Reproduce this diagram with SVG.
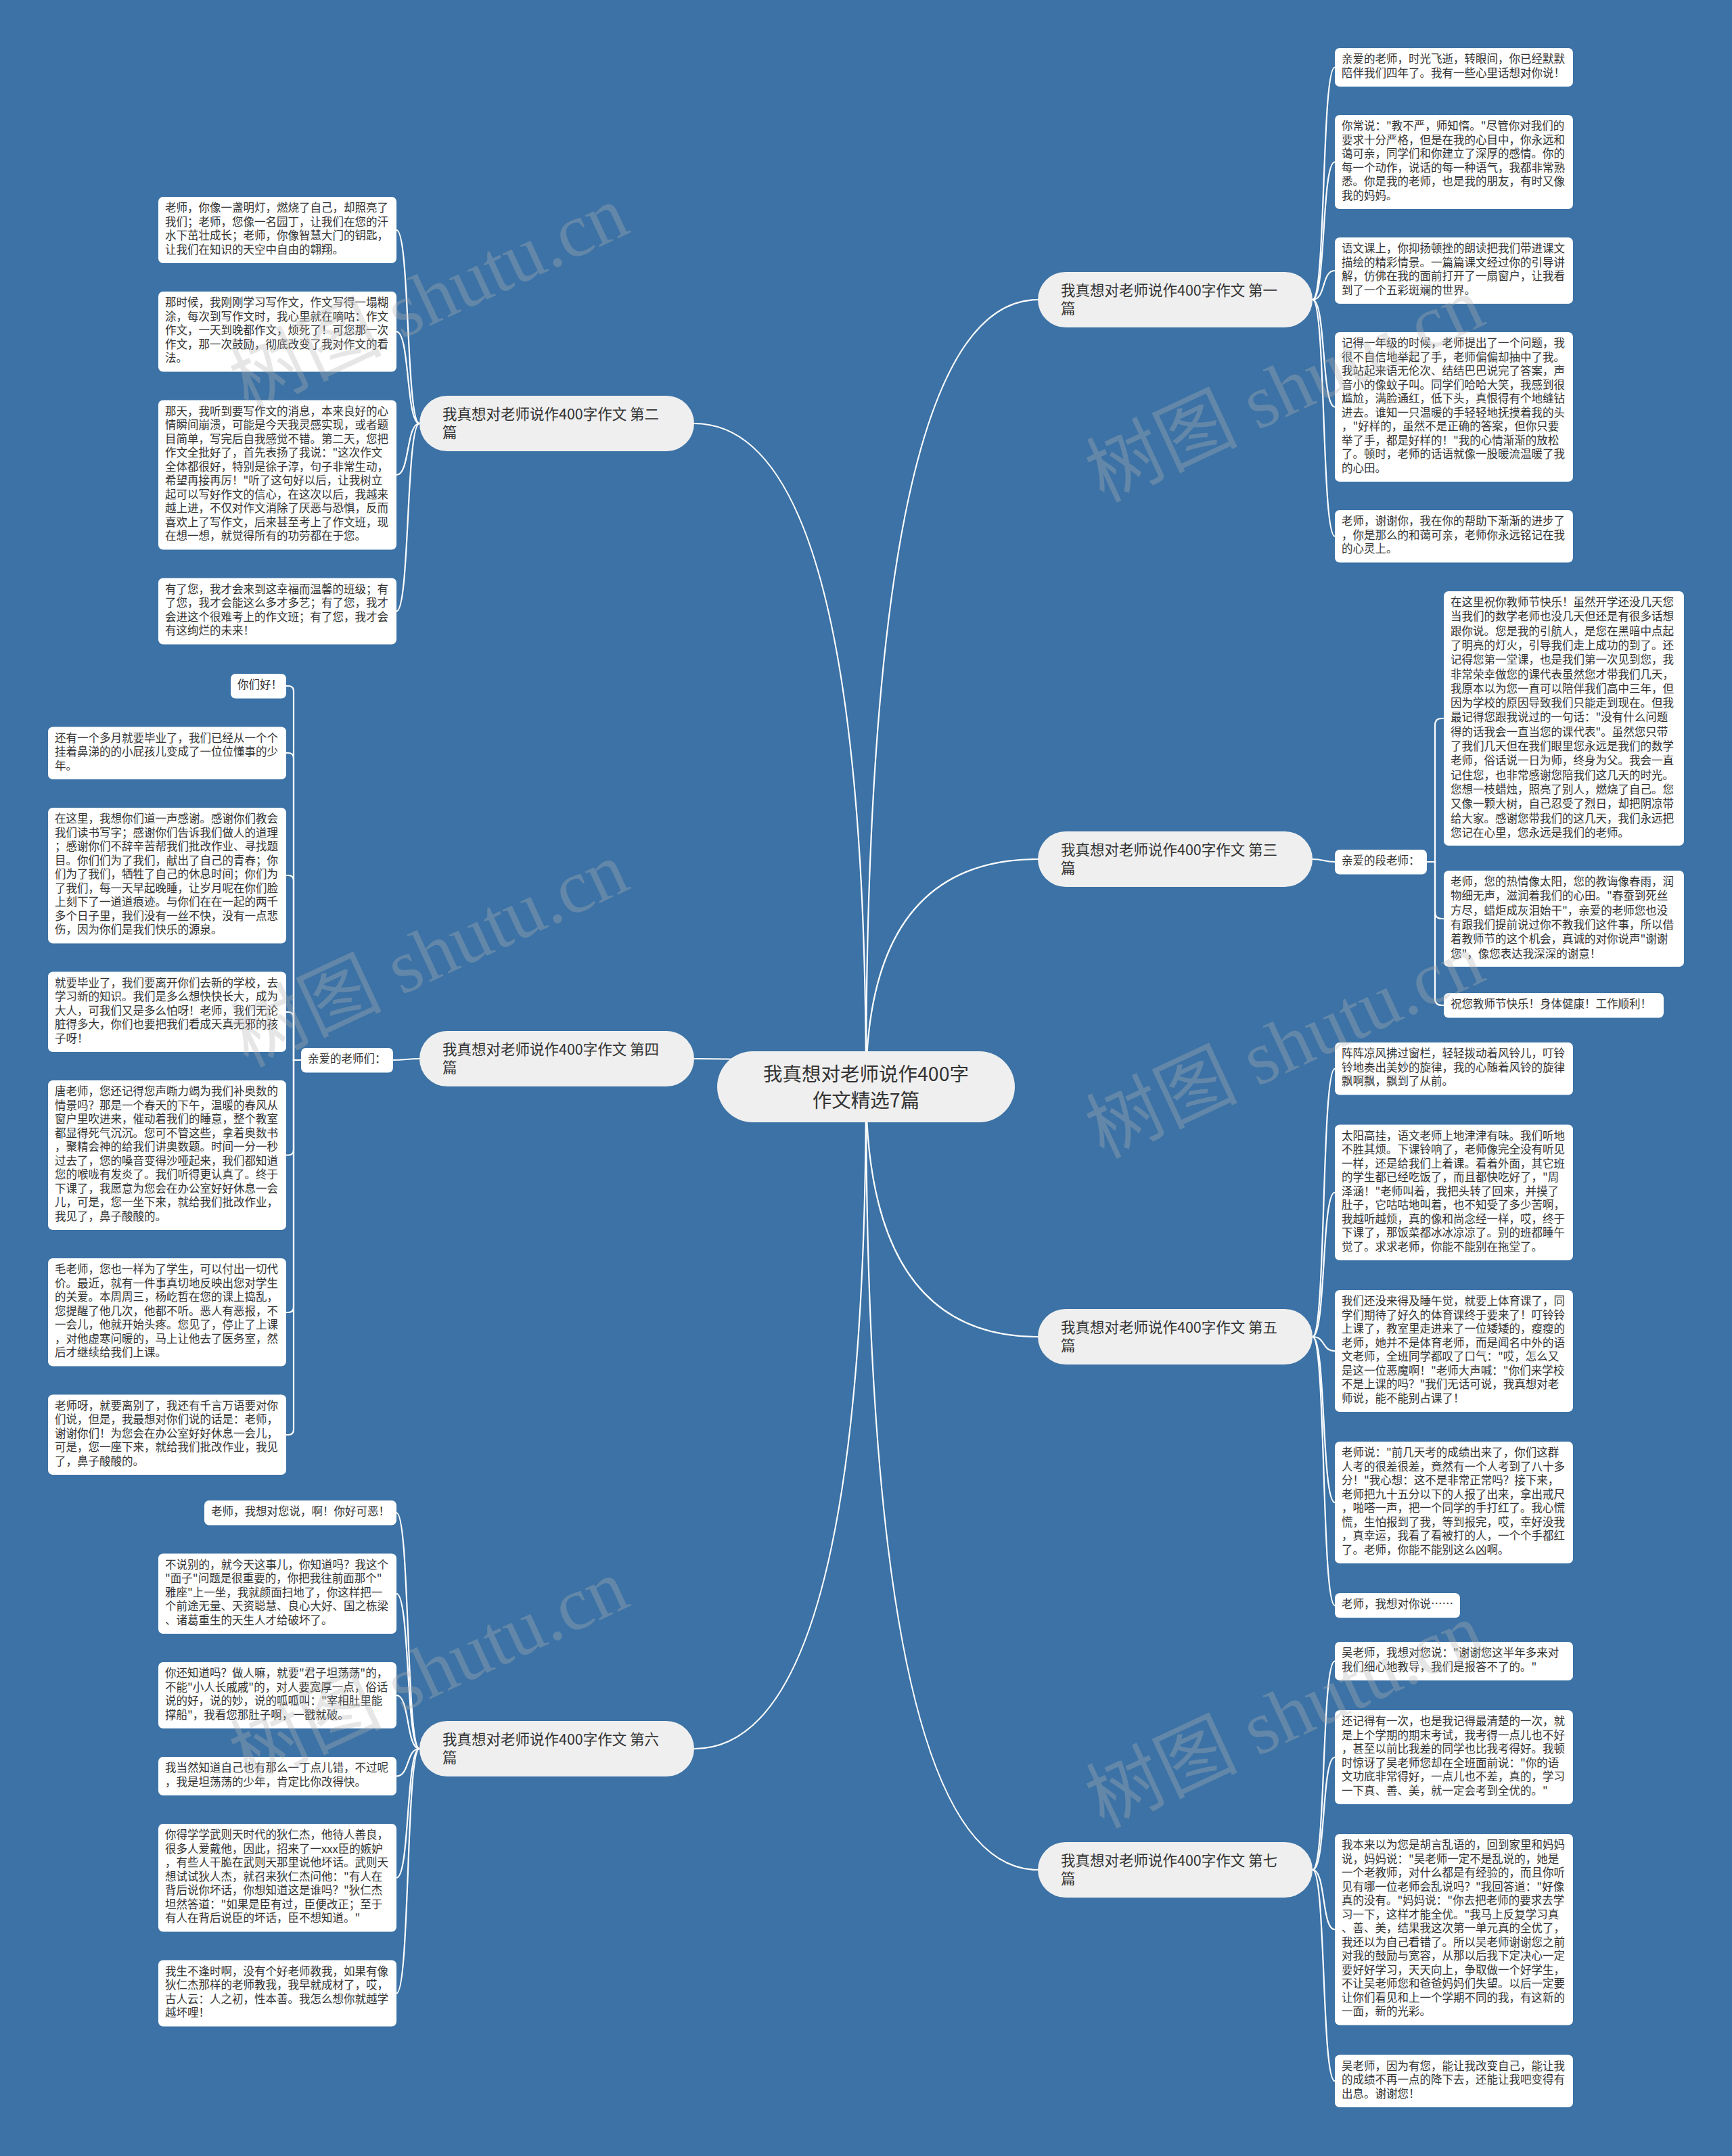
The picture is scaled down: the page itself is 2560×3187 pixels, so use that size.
<svg xmlns="http://www.w3.org/2000/svg" width="2560" height="3187" viewBox="0 0 2560 3187">
<style>
.bg{fill:#3c72a5}
.leaf{fill:#ffffff}
.lt{font-family:"Noto Sans CJK SC","Noto Sans",sans-serif;font-size:16.5px;fill:#333333}
.br{fill:#efefef}
.bt{font-family:"Noto Sans CJK SC","Noto Sans",sans-serif;font-size:21.5px;fill:#333333}
.ct{font-family:"Noto Sans CJK SC","Noto Sans",sans-serif;font-size:28.5px;fill:#333333;text-anchor:middle}
.cn{fill:none;stroke:#ffffff;stroke-width:2.2}
.wm{font-family:"Liberation Serif","Noto Sans CJK SC",serif;font-size:112px;fill:#b4b4b4;fill-opacity:0.33;text-anchor:middle}
</style>
<rect class="bg" x="0" y="0" width="2560" height="3187"/>

<g id="connectors">
<path class="cn" d="M1280,1606 Q1280,443 1534,443"/>
<path class="cn" d="M1280,1606 Q1280,626 1026,626"/>
<path class="cn" d="M1280,1606 Q1280,1270 1534,1270"/>
<path class="cn" d="M1280,1606 Q1280,1565 1026,1565"/>
<path class="cn" d="M1280,1606 Q1280,1976 1534,1976"/>
<path class="cn" d="M1280,1606 Q1280,2585 1026,2585"/>
<path class="cn" d="M1280,1606 Q1280,2764 1534,2764"/>

<path class="cn" d="M1940,443 C1960,443 1953,99.5 1973,99.5"/>
<path class="cn" d="M1940,443 C1960,443 1953,239.5 1973,239.5"/>
<path class="cn" d="M1940,443 C1960,443 1953,400 1973,400"/>
<path class="cn" d="M1940,443 C1960,443 1953,601.5 1973,601.5"/>
<path class="cn" d="M1940,443 C1960,443 1953,792.75 1973,792.75"/>

<path class="cn" d="M620,626 C600,626 606,340 586,340"/>
<path class="cn" d="M620,626 C600,626 606,490.25 586,490.25"/>
<path class="cn" d="M620,626 C600,626 606,702 586,702"/>
<path class="cn" d="M620,626 C600,626 606,903.5 586,903.5"/>

<path class="cn" d="M1940,1270 C1957,1270 1956,1274 1973,1274"/>
<path class="cn" d="M2109,1274 H2121 V1072 Q2121,1062 2131,1062 H2134"/>
<path class="cn" d="M2109,1274 H2121 V1348 Q2121,1358 2131,1358 H2134"/>
<path class="cn" d="M2109,1274 H2121 V1476 Q2121,1486 2131,1486 H2134"/>

<path class="cn" d="M620,1565 C601,1565 600,1567 581,1567"/>
<path class="cn" d="M445,1567 H434 V1022 Q434,1014 426,1014 H423"/>
<path class="cn" d="M445,1567 H434 V1121 Q434,1113 426,1113 H423"/>
<path class="cn" d="M445,1567 H434 V1302 Q434,1294 426,1294 H423"/>
<path class="cn" d="M445,1567 H434 V1504 Q434,1496 426,1496 H423"/>
<path class="cn" d="M445,1567 H434 V1699.5 Q434,1707.5 426,1707.5 H423"/>
<path class="cn" d="M445,1567 H434 V1932 Q434,1940 426,1940 H423"/>
<path class="cn" d="M445,1567 H434 V2113 Q434,2121 426,2121 H423"/>

<path class="cn" d="M1940,1976 C1960,1976 1953,1579.75 1973,1579.75"/>
<path class="cn" d="M1940,1976 C1960,1976 1953,1762.75 1973,1762.75"/>
<path class="cn" d="M1940,1976 C1960,1976 1953,1997 1973,1997"/>
<path class="cn" d="M1940,1976 C1960,1976 1953,2221 1973,2221"/>
<path class="cn" d="M1940,1976 C1960,1976 1953,2373.25 1973,2373.25"/>

<path class="cn" d="M620,2585 C600,2585 606,2236.25 586,2236.25"/>
<path class="cn" d="M620,2585 C600,2585 606,2355.75 586,2355.75"/>
<path class="cn" d="M620,2585 C600,2585 606,2506 586,2506"/>
<path class="cn" d="M620,2585 C600,2585 606,2625.5 586,2625.5"/>
<path class="cn" d="M620,2585 C600,2585 606,2775.75 586,2775.75"/>
<path class="cn" d="M620,2585 C600,2585 606,2946.5 586,2946.5"/>

<path class="cn" d="M1940,2764 C1960,2764 1953,2455.5 1973,2455.5"/>
<path class="cn" d="M1940,2764 C1960,2764 1953,2597.5 1973,2597.5"/>
<path class="cn" d="M1940,2764 C1960,2764 1953,2852.25 1973,2852.25"/>
<path class="cn" d="M1940,2764 C1960,2764 1953,3076.25 1973,3076.25"/>
</g>

<g id="center">
<rect class="br" x="1060" y="1554" width="440" height="105" rx="52.5"/>
<text class="ct" x="1280" y="1598">我真想对老师说作400字</text>
<text class="ct" x="1280" y="1637">作文精选7篇</text>
</g>

<g id="branch1">
<rect class="br" x="1534" y="402" width="406" height="82" rx="41"/>
<text class="bt" x="1568" y="437">我真想对老师说作400字作文 第一<tspan x="1568" dy="27">篇</tspan></text>
</g>
<g id="branch2">
<rect class="br" x="620" y="585" width="406" height="82" rx="41"/>
<text class="bt" x="654" y="620">我真想对老师说作400字作文 第二<tspan x="654" dy="27">篇</tspan></text>
</g>
<g id="branch3">
<rect class="br" x="1534" y="1229" width="406" height="82" rx="41"/>
<text class="bt" x="1568" y="1264">我真想对老师说作400字作文 第三<tspan x="1568" dy="27">篇</tspan></text>
</g>
<g id="branch4">
<rect class="br" x="620" y="1524" width="406" height="82" rx="41"/>
<text class="bt" x="654" y="1559">我真想对老师说作400字作文 第四<tspan x="654" dy="27">篇</tspan></text>
</g>
<g id="branch5">
<rect class="br" x="1534" y="1935" width="406" height="82" rx="41"/>
<text class="bt" x="1568" y="1970">我真想对老师说作400字作文 第五<tspan x="1568" dy="27">篇</tspan></text>
</g>
<g id="branch6">
<rect class="br" x="620" y="2544" width="406" height="82" rx="41"/>
<text class="bt" x="654" y="2579">我真想对老师说作400字作文 第六<tspan x="654" dy="27">篇</tspan></text>
</g>
<g id="branch7">
<rect class="br" x="1534" y="2723" width="406" height="82" rx="41"/>
<text class="bt" x="1568" y="2758">我真想对老师说作400字作文 第七<tspan x="1568" dy="27">篇</tspan></text>
</g>

<g id="s1-1"><rect class="leaf" x="1973" y="71" width="352" height="57" rx="7"/>
<text class="lt" x="1983" y="93"><tspan x="1983">亲爱的老师，时光飞逝，转眼间，你已经默默</tspan><tspan x="1983" dy="20.5">陪伴我们四年了。我有一些心里话想对你说！</tspan></text></g>
<g id="s1-2"><rect class="leaf" x="1973" y="170" width="352" height="139" rx="7"/>
<text class="lt" x="1983" y="192"><tspan x="1983">你常说："教不严，师知惰。"尽管你对我们的</tspan><tspan x="1983" dy="20.5">要求十分严格，但是在我的心目中，你永远和</tspan><tspan x="1983" dy="20.5">蔼可亲，同学们和你建立了深厚的感情。你的</tspan><tspan x="1983" dy="20.5">每一个动作，说话的每一种语气，我都非常熟</tspan><tspan x="1983" dy="20.5">悉。你是我的老师，也是我的朋友，有时又像</tspan><tspan x="1983" dy="20.5">我的妈妈。</tspan></text></g>
<g id="s1-3"><rect class="leaf" x="1973" y="351" width="352" height="98" rx="7"/>
<text class="lt" x="1983" y="373"><tspan x="1983">语文课上，你抑扬顿挫的朗读把我们带进课文</tspan><tspan x="1983" dy="20.5">描绘的精彩情景。一篇篇课文经过你的引导讲</tspan><tspan x="1983" dy="20.5">解，仿佛在我的面前打开了一扇窗户，让我看</tspan><tspan x="1983" dy="20.5">到了一个五彩斑斓的世界。</tspan></text></g>
<g id="s1-4"><rect class="leaf" x="1973" y="491" width="352" height="221" rx="7"/>
<text class="lt" x="1983" y="513"><tspan x="1983">记得一年级的时候，老师提出了一个问题，我</tspan><tspan x="1983" dy="20.5">很不自信地举起了手，老师偏偏却抽中了我。</tspan><tspan x="1983" dy="20.5">我站起来语无伦次、结结巴巴说完了答案，声</tspan><tspan x="1983" dy="20.5">音小的像蚊子叫。同学们哈哈大笑，我感到很</tspan><tspan x="1983" dy="20.5">尴尬，满脸通红，低下头，真恨得有个地缝钻</tspan><tspan x="1983" dy="20.5">进去。谁知一只温暖的手轻轻地抚摸着我的头</tspan><tspan x="1983" dy="20.5">，"好样的，虽然不是正确的答案，但你只要</tspan><tspan x="1983" dy="20.5">举了手，都是好样的！"我的心情渐渐的放松</tspan><tspan x="1983" dy="20.5">了。顿时，老师的话语就像一股暖流温暖了我</tspan><tspan x="1983" dy="20.5">的心田。</tspan></text></g>
<g id="s1-5"><rect class="leaf" x="1973" y="754" width="352" height="77.5" rx="7"/>
<text class="lt" x="1983" y="776"><tspan x="1983">老师，谢谢你，我在你的帮助下渐渐的进步了</tspan><tspan x="1983" dy="20.5">，你是那么的和蔼可亲，老师你永远铭记在我</tspan><tspan x="1983" dy="20.5">的心灵上。</tspan></text></g>

<g id="s2-1"><rect class="leaf" x="234" y="291" width="352" height="98" rx="7"/>
<text class="lt" x="244" y="313"><tspan x="244">老师，你像一盏明灯，燃烧了自己，却照亮了</tspan><tspan x="244" dy="20.5">我们；老师，您像一名园丁，让我们在您的汗</tspan><tspan x="244" dy="20.5">水下茁壮成长；老师，你像智慧大门的钥匙，</tspan><tspan x="244" dy="20.5">让我们在知识的天空中自由的翱翔。</tspan></text></g>
<g id="s2-2"><rect class="leaf" x="234" y="431" width="352" height="118.5" rx="7"/>
<text class="lt" x="244" y="453"><tspan x="244">那时候，我刚刚学习写作文，作文写得一塌糊</tspan><tspan x="244" dy="20.5">涂，每次到写作文时，我心里就在嘀咕：作文</tspan><tspan x="244" dy="20.5">作文，一天到晚都作文，烦死了！可您那一次</tspan><tspan x="244" dy="20.5">作文，那一次鼓励，彻底改变了我对作文的看</tspan><tspan x="244" dy="20.5">法。</tspan></text></g>
<g id="s2-3"><rect class="leaf" x="234" y="591.5" width="352" height="221" rx="7"/>
<text class="lt" x="244" y="613.5"><tspan x="244">那天，我听到要写作文的消息，本来良好的心</tspan><tspan x="244" dy="20.5">情瞬间崩溃，可能是今天我灵感实现，或者题</tspan><tspan x="244" dy="20.5">目简单，写完后自我感觉不错。第二天，您把</tspan><tspan x="244" dy="20.5">作文全批好了，首先表扬了我说："这次作文</tspan><tspan x="244" dy="20.5">全体都很好，特别是徐子淳，句子非常生动，</tspan><tspan x="244" dy="20.5">希望再接再厉！"听了这句好以后，让我树立</tspan><tspan x="244" dy="20.5">起可以写好作文的信心，在这次以后，我越来</tspan><tspan x="244" dy="20.5">越上进，不仅对作文消除了厌恶与恐惧，反而</tspan><tspan x="244" dy="20.5">喜欢上了写作文，后来甚至考上了作文班，现</tspan><tspan x="244" dy="20.5">在想一想，就觉得所有的功劳都在于您。</tspan></text></g>
<g id="s2-4"><rect class="leaf" x="234" y="854.5" width="352" height="98" rx="7"/>
<text class="lt" x="244" y="876.5"><tspan x="244">有了您，我才会来到这幸福而温馨的班级；有</tspan><tspan x="244" dy="20.5">了您，我才会能这么多才多艺；有了您，我才</tspan><tspan x="244" dy="20.5">会进这个很难考上的作文班；有了您，我才会</tspan><tspan x="244" dy="20.5">有这绚烂的未来！</tspan></text></g>

<g id="s3-mid"><rect class="leaf" x="1973" y="1256" width="136" height="36.5" rx="7"/>
<text class="lt" x="1983" y="1278">亲爱的段老师：</text></g>
<g id="s3-1"><rect class="leaf" x="2134" y="874" width="355" height="376" rx="7"/>
<text class="lt" x="2144" y="896"><tspan x="2144">在这里祝你教师节快乐！虽然开学还没几天您</tspan><tspan x="2144" dy="21.3">当我们的数学老师也没几天但还是有很多话想</tspan><tspan x="2144" dy="21.3">跟你说。您是我的引航人，是您在黑暗中点起</tspan><tspan x="2144" dy="21.3">了明亮的灯火，引导我们走上成功的到了。还</tspan><tspan x="2144" dy="21.3">记得您第一堂课，也是我们第一次见到您，我</tspan><tspan x="2144" dy="21.3">非常荣幸做您的课代表虽然您才带我们几天，</tspan><tspan x="2144" dy="21.3">我原本以为您一直可以陪伴我们高中三年，但</tspan><tspan x="2144" dy="21.3">因为学校的原因导致我们只能走到现在。但我</tspan><tspan x="2144" dy="21.3">最记得您跟我说过的一句话："没有什么问题</tspan><tspan x="2144" dy="21.3">得的话我会一直当您的课代表"。虽然您只带</tspan><tspan x="2144" dy="21.3">了我们几天但在我们眼里您永远是我们的数学</tspan><tspan x="2144" dy="21.3">老师，俗话说一日为师，终身为父。我会一直</tspan><tspan x="2144" dy="21.3">记住您，也非常感谢您陪我们这几天的时光。</tspan><tspan x="2144" dy="21.3">您想一枝蜡烛，照亮了别人，燃烧了自己。您</tspan><tspan x="2144" dy="21.3">又像一颗大树，自己忍受了烈日，却把阴凉带</tspan><tspan x="2144" dy="21.3">给大家。感谢您带我们的这几天，我们永远把</tspan><tspan x="2144" dy="21.3">您记在心里，您永远是我们的老师。</tspan></text></g>
<g id="s3-2"><rect class="leaf" x="2134" y="1287" width="355" height="142" rx="7"/>
<text class="lt" x="2144" y="1309"><tspan x="2144">老师，您的热情像太阳，您的教诲像春雨，润</tspan><tspan x="2144" dy="21.3">物细无声，滋润着我们的心田。"春蚕到死丝</tspan><tspan x="2144" dy="21.3">方尽，蜡炬成灰泪始干"，亲爱的老师您也没</tspan><tspan x="2144" dy="21.3">有跟我们提前说过你不教我们这件事，所以借</tspan><tspan x="2144" dy="21.3">着教师节的这个机会，真诚的对你说声"谢谢</tspan><tspan x="2144" dy="21.3">您"，像您表达我深深的谢意！</tspan></text></g>
<g id="s3-3"><rect class="leaf" x="2134" y="1468" width="325" height="36.5" rx="7"/>
<text class="lt" x="2144" y="1490">祝您教师节快乐！身体健康！工作顺利！</text></g>

<g id="s4-mid"><rect class="leaf" x="445" y="1549" width="136" height="36.5" rx="7"/>
<text class="lt" x="455" y="1571">亲爱的老师们：</text></g>
<g id="s4-0"><rect class="leaf" x="341" y="996" width="82" height="36.5" rx="7"/>
<text class="lt" x="351" y="1018">你们好！</text></g>
<g id="s4-1"><rect class="leaf" x="71" y="1074.5" width="352" height="77.5" rx="7"/>
<text class="lt" x="81" y="1096.5"><tspan x="81">还有一个多月就要毕业了，我们已经从一个个</tspan><tspan x="81" dy="20.5">挂着鼻涕的的小屁孩儿变成了一位位懂事的少</tspan><tspan x="81" dy="20.5">年。</tspan></text></g>
<g id="s4-2"><rect class="leaf" x="71" y="1194" width="352" height="200.5" rx="7"/>
<text class="lt" x="81" y="1216"><tspan x="81">在这里，我想你们道一声感谢。感谢你们教会</tspan><tspan x="81" dy="20.5">我们读书写字；感谢你们告诉我们做人的道理</tspan><tspan x="81" dy="20.5">；感谢你们不辞辛苦帮我们批改作业、寻找题</tspan><tspan x="81" dy="20.5">目。你们们为了我们，献出了自己的青春；你</tspan><tspan x="81" dy="20.5">们为了我们，牺牲了自己的休息时间；你们为</tspan><tspan x="81" dy="20.5">了我们，每一天早起晚睡，让岁月呢在你们脸</tspan><tspan x="81" dy="20.5">上刻下了一道道痕迹。与你们在在一起的两千</tspan><tspan x="81" dy="20.5">多个日子里，我们没有一丝不快，没有一点悲</tspan><tspan x="81" dy="20.5">伤，因为你们是我们快乐的源泉。</tspan></text></g>
<g id="s4-3"><rect class="leaf" x="71" y="1436.5" width="352" height="118.5" rx="7"/>
<text class="lt" x="81" y="1458.5"><tspan x="81">就要毕业了，我们要离开你们去新的学校，去</tspan><tspan x="81" dy="20.5">学习新的知识。我们是多么想快快长大，成为</tspan><tspan x="81" dy="20.5">大人，可我们又是多么怕呀！老师，我们无论</tspan><tspan x="81" dy="20.5">脏得多大，你们也要把我们看成天真无邪的孩</tspan><tspan x="81" dy="20.5">子呀！</tspan></text></g>
<g id="s4-4"><rect class="leaf" x="71" y="1597" width="352" height="221" rx="7"/>
<text class="lt" x="81" y="1619"><tspan x="81">唐老师，您还记得您声嘶力竭为我们补奥数的</tspan><tspan x="81" dy="20.5">情景吗？那是一个春天的下午，温暖的春风从</tspan><tspan x="81" dy="20.5">窗户里吹进来，催动着我们的睡意，整个教室</tspan><tspan x="81" dy="20.5">都显得死气沉沉。您可不管这些，拿着奥数书</tspan><tspan x="81" dy="20.5">，聚精会神的给我们讲奥数题。时间一分一秒</tspan><tspan x="81" dy="20.5">过去了，您的嗓音变得沙哑起来，我们都知道</tspan><tspan x="81" dy="20.5">您的喉咙有发炎了。我们听得更认真了。终于</tspan><tspan x="81" dy="20.5">下课了，我愿意为您会在办公室好好休息一会</tspan><tspan x="81" dy="20.5">儿，可是，您一坐下来，就给我们批改作业，</tspan><tspan x="81" dy="20.5">我见了，鼻子酸酸的。</tspan></text></g>
<g id="s4-5"><rect class="leaf" x="71" y="1860" width="352" height="159.5" rx="7"/>
<text class="lt" x="81" y="1882"><tspan x="81">毛老师，您也一样为了学生，可以付出一切代</tspan><tspan x="81" dy="20.5">价。最近，就有一件事真切地反映出您对学生</tspan><tspan x="81" dy="20.5">的关爱。本周周三，杨屹哲在您的课上捣乱，</tspan><tspan x="81" dy="20.5">您提醒了他几次，他都不听。恶人有恶报，不</tspan><tspan x="81" dy="20.5">一会儿，他就开始头疼。您见了，停止了上课</tspan><tspan x="81" dy="20.5">，对他虚寒问暖的，马上让他去了医务室，然</tspan><tspan x="81" dy="20.5">后才继续给我们上课。</tspan></text></g>
<g id="s4-6"><rect class="leaf" x="71" y="2061.5" width="352" height="118.5" rx="7"/>
<text class="lt" x="81" y="2083.5"><tspan x="81">老师呀，就要离别了，我还有千言万语要对你</tspan><tspan x="81" dy="20.5">们说，但是，我最想对你们说的话是：老师，</tspan><tspan x="81" dy="20.5">谢谢你们！为您会在办公室好好休息一会儿，</tspan><tspan x="81" dy="20.5">可是，您一座下来，就给我们批改作业，我见</tspan><tspan x="81" dy="20.5">了，鼻子酸酸的。</tspan></text></g>

<g id="s5-1"><rect class="leaf" x="1973" y="1541" width="352" height="77.5" rx="7"/>
<text class="lt" x="1983" y="1563"><tspan x="1983">阵阵凉风拂过窗栏，轻轻拨动着风铃儿，叮铃</tspan><tspan x="1983" dy="20.5">铃地奏出美妙的旋律，我的心随着风铃的旋律</tspan><tspan x="1983" dy="20.5">飘啊飘，飘到了从前。</tspan></text></g>
<g id="s5-2"><rect class="leaf" x="1973" y="1662.5" width="352" height="200.5" rx="7"/>
<text class="lt" x="1983" y="1684.5"><tspan x="1983">太阳高挂，语文老师上地津津有味。我们听地</tspan><tspan x="1983" dy="20.5">不胜其烦。下课铃响了，老师像完全没有听见</tspan><tspan x="1983" dy="20.5">一样，还是给我们上着课。看着外面，其它班</tspan><tspan x="1983" dy="20.5">的学生都已经吃饭了，而且都快吃好了，"周</tspan><tspan x="1983" dy="20.5">泽涵！"老师叫着，我把头转了回来，并摸了</tspan><tspan x="1983" dy="20.5">肚子，它咕咕地叫着，也不知受了多少苦啊，</tspan><tspan x="1983" dy="20.5">我越听越烦，真的像和尚念经一样，哎，终于</tspan><tspan x="1983" dy="20.5">下课了，那饭菜都冰冰凉凉了。别的班都睡午</tspan><tspan x="1983" dy="20.5">觉了。求求老师，你能不能别在拖堂了。</tspan></text></g>
<g id="s5-3"><rect class="leaf" x="1973" y="1907" width="352" height="180" rx="7"/>
<text class="lt" x="1983" y="1929"><tspan x="1983">我们还没来得及睡午觉，就要上体育课了，同</tspan><tspan x="1983" dy="20.5">学们期待了好久的体育课终于要来了！叮铃铃</tspan><tspan x="1983" dy="20.5">上课了，教室里走进来了一位矮矮的，瘦瘦的</tspan><tspan x="1983" dy="20.5">老师，她并不是体育老师，而是闻名中外的语</tspan><tspan x="1983" dy="20.5">文老师，全班同学都叹了口气："哎，怎么又</tspan><tspan x="1983" dy="20.5">是这一位恶魔啊！"老师大声喊："你们来学校</tspan><tspan x="1983" dy="20.5">不是上课的吗？"我们无话可说，我真想对老</tspan><tspan x="1983" dy="20.5">师说，能不能别占课了！</tspan></text></g>
<g id="s5-4"><rect class="leaf" x="1973" y="2131" width="352" height="180" rx="7"/>
<text class="lt" x="1983" y="2153"><tspan x="1983">老师说："前几天考的成绩出来了，你们这群</tspan><tspan x="1983" dy="20.5">人考的很差很差，竟然有一个人考到了八十多</tspan><tspan x="1983" dy="20.5">分！"我心想：这不是非常正常吗？接下来，</tspan><tspan x="1983" dy="20.5">老师把九十五分以下的人报了出来，拿出戒尺</tspan><tspan x="1983" dy="20.5">，啪嗒一声，把一个同学的手打红了。我心慌</tspan><tspan x="1983" dy="20.5">慌，生怕报到了我，等到报完，哎，幸好没我</tspan><tspan x="1983" dy="20.5">，真幸运，我看了看被打的人，一个个手都红</tspan><tspan x="1983" dy="20.5">了。老师，你能不能别这么凶啊。</tspan></text></g>
<g id="s5-5"><rect class="leaf" x="1973" y="2355" width="185" height="36.5" rx="7"/>
<text class="lt" x="1983" y="2377">老师，我想对你说……</text></g>

<g id="s6-1"><rect class="leaf" x="302" y="2218" width="284" height="36.5" rx="7"/>
<text class="lt" x="312" y="2240">老师，我想对您说，啊！你好可恶！</text></g>
<g id="s6-2"><rect class="leaf" x="234" y="2296.5" width="352" height="118.5" rx="7"/>
<text class="lt" x="244" y="2318.5"><tspan x="244">不说别的，就今天这事儿，你知道吗？我这个</tspan><tspan x="244" dy="20.5">"面子"问题是很重要的，你把我往前面那个"</tspan><tspan x="244" dy="20.5">雅座"上一坐，我就颜面扫地了，你这样把一</tspan><tspan x="244" dy="20.5">个前途无量、天资聪慧、良心大好、国之栋梁</tspan><tspan x="244" dy="20.5">、诸葛重生的天生人才给破坏了。</tspan></text></g>
<g id="s6-3"><rect class="leaf" x="234" y="2457" width="352" height="98" rx="7"/>
<text class="lt" x="244" y="2479"><tspan x="244">你还知道吗？做人嘛，就要"君子坦荡荡"的，</tspan><tspan x="244" dy="20.5">不能"小人长戚戚"的，对人要宽厚一点，俗话</tspan><tspan x="244" dy="20.5">说的好，说的妙，说的呱呱叫："宰相肚里能</tspan><tspan x="244" dy="20.5">撑船"，我看您那肚子啊，一戳就破。</tspan></text></g>
<g id="s6-4"><rect class="leaf" x="234" y="2597" width="352" height="57" rx="7"/>
<text class="lt" x="244" y="2619"><tspan x="244">我当然知道自己也有那么一丁点儿错，不过呢</tspan><tspan x="244" dy="20.5">，我是坦荡荡的少年，肯定比你改得快。</tspan></text></g>
<g id="s6-5"><rect class="leaf" x="234" y="2696" width="352" height="159.5" rx="7"/>
<text class="lt" x="244" y="2718"><tspan x="244">你得学学武则天时代的狄仁杰，他待人善良，</tspan><tspan x="244" dy="20.5">很多人爱戴他，因此，招来了一xxx臣的嫉妒</tspan><tspan x="244" dy="20.5">，有些人干脆在武则天那里说他坏话。武则天</tspan><tspan x="244" dy="20.5">想试试狄人杰，就召来狄仁杰问他："有人在</tspan><tspan x="244" dy="20.5">背后说你坏话，你想知道这是谁吗？"狄仁杰</tspan><tspan x="244" dy="20.5">坦然答道："如果是臣有过，臣便改正；至于</tspan><tspan x="244" dy="20.5">有人在背后说臣的坏话，臣不想知道。"</tspan></text></g>
<g id="s6-6"><rect class="leaf" x="234" y="2897.5" width="352" height="98" rx="7"/>
<text class="lt" x="244" y="2919.5"><tspan x="244">我生不逢时啊，没有个好老师教我，如果有像</tspan><tspan x="244" dy="20.5">狄仁杰那样的老师教我，我早就成材了，哎，</tspan><tspan x="244" dy="20.5">古人云：人之初，性本善。我怎么想你就越学</tspan><tspan x="244" dy="20.5">越坏哩！</tspan></text></g>

<g id="s7-1"><rect class="leaf" x="1973" y="2427" width="352" height="57" rx="7"/>
<text class="lt" x="1983" y="2449"><tspan x="1983">吴老师，我想对您说："谢谢您这半年多来对</tspan><tspan x="1983" dy="20.5">我们细心地教导，我们是报答不了的。"</tspan></text></g>
<g id="s7-2"><rect class="leaf" x="1973" y="2528" width="352" height="139" rx="7"/>
<text class="lt" x="1983" y="2550"><tspan x="1983">还记得有一次，也是我记得最清楚的一次，就</tspan><tspan x="1983" dy="20.5">是上个学期的期末考试，我考得一点儿也不好</tspan><tspan x="1983" dy="20.5">，甚至以前比我差的同学也比我考得好。我顿</tspan><tspan x="1983" dy="20.5">时惊讶了吴老师您却在全班面前说："你的语</tspan><tspan x="1983" dy="20.5">文功底非常得好，一点儿也不差，真的，学习</tspan><tspan x="1983" dy="20.5">一下真、善、美，就一定会考到全优的。"</tspan></text></g>
<g id="s7-3"><rect class="leaf" x="1973" y="2711" width="352" height="282.5" rx="7"/>
<text class="lt" x="1983" y="2733"><tspan x="1983">我本来以为您是胡言乱语的，回到家里和妈妈</tspan><tspan x="1983" dy="20.5">说，妈妈说："吴老师一定不是乱说的，她是</tspan><tspan x="1983" dy="20.5">一个老教师，对什么都是有经验的，而且你听</tspan><tspan x="1983" dy="20.5">见有哪一位老师会乱说吗？"我回答道："好像</tspan><tspan x="1983" dy="20.5">真的没有。"妈妈说："你去把老师的要求去学</tspan><tspan x="1983" dy="20.5">习一下，这样才能全优。"我马上反复学习真</tspan><tspan x="1983" dy="20.5">、善、美，结果我这次第一单元真的全优了，</tspan><tspan x="1983" dy="20.5">我还以为自己看错了。所以吴老师谢谢您之前</tspan><tspan x="1983" dy="20.5">对我的鼓励与宽容，从那以后我下定决心一定</tspan><tspan x="1983" dy="20.5">要好好学习，天天向上，争取做一个好学生，</tspan><tspan x="1983" dy="20.5">不让吴老师您和爸爸妈妈们失望。以后一定要</tspan><tspan x="1983" dy="20.5">让你们看见和上一个学期不同的我，有这新的</tspan><tspan x="1983" dy="20.5">一面，新的光彩。</tspan></text></g>
<g id="s7-4"><rect class="leaf" x="1973" y="3037.5" width="352" height="77.5" rx="7"/>
<text class="lt" x="1983" y="3059.5"><tspan x="1983">吴老师，因为有您，能让我改变自己，能让我</tspan><tspan x="1983" dy="20.5">的成绩不再一点的降下去，还能让我吧变得有</tspan><tspan x="1983" dy="20.5">出息。谢谢您！</tspan></text></g>

<g id="watermarks">
<text class="wm" transform="translate(650,475) rotate(-25)">树图 shutu.cn</text>
<text class="wm" transform="translate(650,1445) rotate(-25)">树图 shutu.cn</text>
<text class="wm" transform="translate(650,2505) rotate(-25)">树图 shutu.cn</text>
<text class="wm" transform="translate(1915,610) rotate(-25)">树图 shutu.cn</text>
<text class="wm" transform="translate(1915,1580) rotate(-25)">树图 shutu.cn</text>
<text class="wm" transform="translate(1915,2570) rotate(-25)">树图 shutu.cn</text>
</g>
</svg>
